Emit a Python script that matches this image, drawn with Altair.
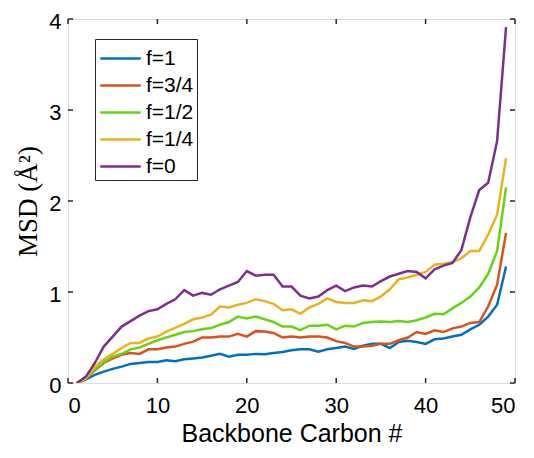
import altair as alt
import pandas as pd

carbon = list(range(1, 50))

f1 = [0.0, 0.04, 0.09, 0.125, 0.155, 0.18, 0.21, 0.22, 0.23, 0.23,
      0.25, 0.24, 0.26, 0.27, 0.28, 0.30, 0.32, 0.29, 0.31, 0.31,
      0.32, 0.315, 0.33, 0.34, 0.36, 0.37, 0.37, 0.345, 0.37, 0.385,
      0.40, 0.375, 0.41, 0.43, 0.43, 0.385, 0.45, 0.465, 0.45, 0.43,
      0.48, 0.49, 0.51, 0.53, 0.59, 0.64, 0.73, 0.86, 1.28]
f34 = [0.0, 0.045, 0.14, 0.22, 0.27, 0.31, 0.33, 0.32, 0.37, 0.37,
       0.39, 0.40, 0.43, 0.455, 0.50, 0.50, 0.51, 0.51, 0.54, 0.51,
       0.57, 0.565, 0.55, 0.50, 0.51, 0.50, 0.51, 0.51, 0.50, 0.46,
       0.44, 0.40, 0.40, 0.41, 0.43, 0.43, 0.47, 0.50, 0.56, 0.54,
       0.58, 0.56, 0.60, 0.62, 0.66, 0.67, 0.84, 1.08, 1.65]
f12 = [0.0, 0.05, 0.15, 0.23, 0.29, 0.32, 0.37, 0.39, 0.43, 0.47,
       0.50, 0.53, 0.56, 0.57, 0.59, 0.605, 0.64, 0.67, 0.73, 0.71,
       0.73, 0.70, 0.67, 0.62, 0.62, 0.58, 0.63, 0.63, 0.64, 0.59,
       0.63, 0.62, 0.66, 0.67, 0.675, 0.67, 0.68, 0.67, 0.69, 0.72,
       0.76, 0.755, 0.82, 0.88, 0.95, 1.05, 1.20, 1.45, 2.15]
f14 = [0.0, 0.055, 0.18, 0.26, 0.32, 0.385, 0.44, 0.44, 0.49, 0.51,
       0.565, 0.605, 0.65, 0.70, 0.72, 0.75, 0.84, 0.83, 0.86, 0.88,
       0.92, 0.90, 0.87, 0.80, 0.81, 0.76, 0.83, 0.87, 0.93, 0.89,
       0.88, 0.88, 0.91, 0.90, 0.95, 1.03, 1.14, 1.16, 1.19, 1.22,
       1.30, 1.31, 1.33, 1.37, 1.45, 1.45, 1.63, 1.85, 2.47]
f0 = [0.0, 0.07, 0.22, 0.40, 0.51, 0.62, 0.68, 0.74, 0.79, 0.81,
      0.87, 0.92, 1.02, 0.96, 0.99, 0.97, 1.03, 1.07, 1.11, 1.23,
      1.18, 1.19, 1.19, 1.06, 1.06, 0.96, 0.93, 0.95, 1.02, 1.07,
      1.01, 1.05, 1.07, 1.06, 1.12, 1.17, 1.20, 1.23, 1.22, 1.15,
      1.25, 1.29, 1.32, 1.46, 1.82, 2.12, 2.20, 2.66, 3.91]

series_names = ["f=1", "f=3/4", "f=1/2", "f=1/4", "f=0"]
series_values = [f1, f34, f12, f14, f0]
series_colors = ["#0072BD", "#D95319", "#64D413", "#EDB120", "#7E2F8E"]

x_ticks = [0, 10, 20, 30, 40, 50]
y_ticks = [0, 1, 2, 3, 4]

rows = []
for name, vals in zip(series_names, series_values):
    for c, v in zip(carbon, vals):
        rows.append({"carbon": c, "msd": v, "series": name})
df = pd.DataFrame(rows)

W, H = 447, 364
TL = 5
FRAME = "#262626"

xscale = alt.Scale(domain=[0, 50], nice=False, zero=False)
yscale = alt.Scale(domain=[0, 4], nice=False, zero=False)

lines = alt.Chart(df).mark_line(strokeWidth=2.5, clip=True).encode(
    x=alt.X("carbon:Q", scale=xscale,
            axis=alt.Axis(values=x_ticks, title="Backbone Carbon #", grid=False,
                          ticks=False, domain=False, labelPadding=12, format="d",
                          labelFontSize=22, titleFontSize=25, titlePadding=5,
                          titleFontWeight="normal", titleFont="Liberation Sans")),
    y=alt.Y("msd:Q", scale=yscale,
            axis=alt.Axis(values=y_ticks, title="MSD (Å²)", grid=False,
                          ticks=False, domain=False, labelPadding=7, format="d",
                          labelFontSize=22, labelOffset=2, titleFontSize=27,
                          titleX=-40, titleBaseline="middle",
                          titleFont="Liberation Serif", titleFontWeight="normal")),
    color=alt.Color("series:N", sort=series_names,
                    scale=alt.Scale(domain=series_names, range=series_colors),
                    legend=alt.Legend(title=None, orient="none", legendX=27, legendY=20,
                                      symbolType="M-1.35,0H1.35", symbolSize=900,
                                      symbolStrokeWidth=2.5, labelFontSize=21,
                                      labelFont="Liberation Sans", labelColor="#000000",
                                      strokeColor=FRAME, padding=3, rowPadding=0,
                                      fillColor="white", labelOffset=9,
                                      symbolOffset=6)),
    order=alt.Order("carbon:Q"),
)

xt = pd.DataFrame({"t": x_ticks})
yt = pd.DataFrame({"t": y_ticks})

xtick_bottom = alt.Chart(xt).mark_rule(color=FRAME, strokeWidth=1.5).encode(
    x=alt.X("t:Q", scale=xscale), y=alt.value(H), y2=alt.value(H - TL))
xtick_top = alt.Chart(xt).mark_rule(color=FRAME, strokeWidth=1.5).encode(
    x=alt.X("t:Q", scale=xscale), y=alt.value(0), y2=alt.value(TL))
ytick_left = alt.Chart(yt).mark_rule(color=FRAME, strokeWidth=1.5).encode(
    y=alt.Y("t:Q", scale=yscale), x=alt.value(0), x2=alt.value(TL))
ytick_right = alt.Chart(yt).mark_rule(color=FRAME, strokeWidth=1.5).encode(
    y=alt.Y("t:Q", scale=yscale), x=alt.value(W), x2=alt.value(W - TL))

chart = alt.layer(lines, xtick_bottom, xtick_top, ytick_left, ytick_right).properties(
    width=W, height=H,
    autosize=alt.AutoSizeParams(type="none"),
    padding={"left": 60, "top": 11, "right": 11, "bottom": 64}
).configure_view(
    stroke=FRAME, strokeWidth=2
).configure_axis(
    labelFont="Liberation Sans", labelColor=FRAME, titleColor=FRAME
).configure(background="white")

chart.save("out.html", embed_options={"renderer": "svg", "actions": False})
